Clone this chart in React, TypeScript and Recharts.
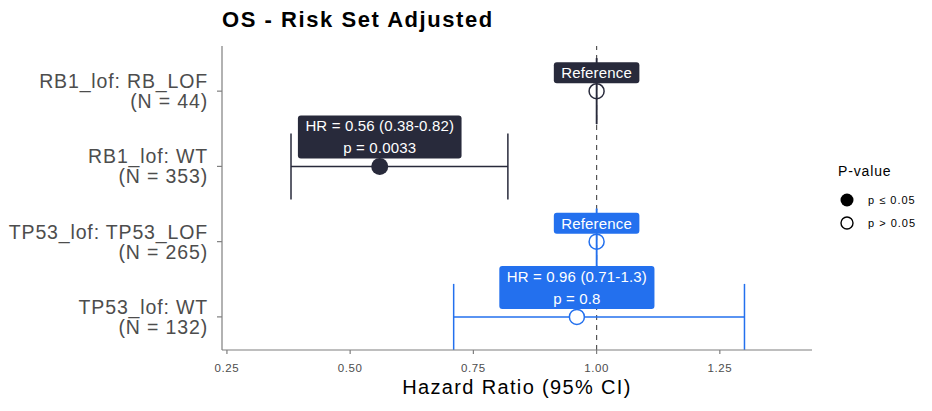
import React from 'react';
import { ComposedChart, Scatter, ErrorBar, XAxis, YAxis, ReferenceLine, Label } from 'recharts';

// one entry per row, top to bottom
const rowLabels = ['RB1_lof: RB_LOF', 'RB1_lof: WT', 'TP53_lof: TP53_LOF', 'TP53_lof: WT'];
const rowN = [44, 353, 265, 132];
const rowGroup = ['RB1', 'RB1', 'TP53', 'TP53'];
const hazardRatio = [1, 0.56, 1, 0.96];
const ciLow = [1, 0.38, 1, 0.71];
const ciHigh = [1, 0.82, 1, 1.3];
const pValue: (number | null)[] = [null, 0.0033, null, 0.8];

const xTicks = [0.25, 0.5, 0.75, 1, 1.25];
const legendItems = [
  { label: 'p ≤ 0.05', filled: true },
  { label: 'p > 0.05', filled: false },
];

const FONT = '"Liberation Sans", Arial, Helvetica, sans-serif';
const DARK = '#282a3b';
const BLUE = '#2370ee';
const AXIS = '#7f7f7f';
const TICK_TEXT = '#4d4d4d';

const rows = rowLabels.map((label, i) => ({
  row: i + 1,
  label,
  n: rowN[i],
  group: rowGroup[i],
  hr: hazardRatio[i],
  low: ciLow[i],
  high: ciHigh[i],
  p: pValue[i],
  err: [hazardRatio[i] - ciLow[i], ciHigh[i] - hazardRatio[i]],
}));

const rb1Rows = rows.filter((r) => r.group === 'RB1');
const tp53Rows = rows.filter((r) => r.group === 'TP53');

let ctx: CanvasRenderingContext2D | null = null;
function textWidth(s: string) {
  if (!ctx) ctx = document.createElement('canvas').getContext('2d');
  if (!ctx) return s.length * 7.5;
  ctx.font = `15px ${FONT}`;
  return ctx.measureText(s).width + s.length * 0.15;
}

const makeShape = (color: string) => (props: any) => {
  const { cx, cy, payload } = props;
  const isRef = payload.p === null;
  const lines = isRef
    ? ['Reference']
    : [`HR = ${payload.hr} (${payload.low}-${payload.high})`, `p = ${payload.p}`];
  const w = Math.max(...lines.map(textWidth)) + 15;
  const h = lines.length * 22 - 1;
  const top = cy - 8 - h;
  const filled = !isRef && payload.p <= 0.05;
  return (
    <g>
      {filled ? (
        <circle cx={cx} cy={cy} r={8.5} fill={color} />
      ) : (
        <circle cx={cx} cy={cy} r={7.5} fill={isRef ? 'none' : '#fff'} stroke={color} strokeWidth={1.5} />
      )}
      <rect x={cx - w / 2} y={top} width={w} height={h} rx={3} fill={color} />
      {lines.map((t, i) => (
        <text key={i} x={cx} y={top + 16 + i * 22} textAnchor="middle" fill="#fff" fontSize={15} fontFamily={FONT} letterSpacing={0.15}>
          {t}
        </text>
      ))}
    </g>
  );
};

const RowTick = (props: any) => {
  const { x, y, payload } = props;
  const r = rows[payload.value - 1];
  if (!r) return null;
  return (
    <text x={x} textAnchor="end" fill={TICK_TEXT} fontSize={19.5} fontFamily={FONT} letterSpacing={0.85}>
      <tspan x={x} y={y - 3}>{r.label}</tspan>
      <tspan x={x} y={y + 17}>{`(N = ${r.n})`}</tspan>
    </text>
  );
};

export default function App() {
  return (
    <div style={{ position: 'absolute', left: 0, top: 0, width: 932, height: 411, background: '#fff', fontFamily: FONT }}>
      <ComposedChart width={932} height={411} margin={{ top: 46, right: 120, bottom: 16, left: 12 }}>
        <XAxis
          type="number"
          dataKey="hr"
          domain={[0.24, 1.437]}
          ticks={xTicks}
          tickFormatter={(v: number) => v.toFixed(2)}
          allowDataOverflow
          stroke={AXIS}
          strokeWidth={1.2}
          tickSize={4}
          tickMargin={10}
          tick={{ fill: TICK_TEXT, fontSize: 11.5, fontFamily: FONT, letterSpacing: 0.6 }}
          height={45}
        >
          <Label
            value="Hazard Ratio (95% CI)"
            position="insideBottom"
            offset={1}
            fill="#000"
            fontSize={20}
            fontFamily={FONT}
            letterSpacing={1.35}
          />
        </XAxis>
        <YAxis
          type="number"
          dataKey="row"
          reversed
          domain={[0.4, 4.44]}
          ticks={[1, 2, 3, 4]}
          allowDataOverflow
          width={210}
          stroke={AXIS}
          strokeWidth={1.2}
          tickSize={5}
          tickMargin={9}
          tick={<RowTick />}
          interval={0}
        />
        <ReferenceLine x={1} stroke="#555" strokeWidth={1.2} strokeDasharray="5 5" />
        <Scatter data={rb1Rows} dataKey="hr" isAnimationActive={false} shape={makeShape(DARK)}>
          <ErrorBar dataKey="err" direction="x" width={33} stroke={DARK} strokeWidth={1.5} />
        </Scatter>
        <Scatter data={tp53Rows} dataKey="hr" isAnimationActive={false} shape={makeShape(BLUE)}>
          <ErrorBar dataKey="err" direction="x" width={33} stroke={BLUE} strokeWidth={1.5} />
        </Scatter>
      </ComposedChart>
      <svg style={{ position: 'absolute', left: 0, top: 0 }} width={600} height={40}>
        <text x={222} y={27} fontSize={22} fontWeight="bold" fill="#000" fontFamily={FONT} letterSpacing={1.55}>
          OS - Risk Set Adjusted
        </text>
      </svg>
      <svg style={{ position: 'absolute', left: 830, top: 155 }} width={102} height={80}>
        <text x={8} y={21} fontSize={14} fill="#000" fontFamily={FONT} letterSpacing={0.85}>P-value</text>
        {legendItems.map((it, i) => (
          <g key={it.label}>
            <circle
              cx={17}
              cy={45 + i * 23}
              r={it.filled ? 6.5 : 6}
              fill={it.filled ? '#000' : '#fff'}
              stroke="#000"
              strokeWidth={it.filled ? 0 : 1.4}
            />
            <text x={38} y={49 + i * 23} fontSize={11} fill="#000" fontFamily={FONT} letterSpacing={1}>{it.label}</text>
          </g>
        ))}
      </svg>
    </div>
  );
}
